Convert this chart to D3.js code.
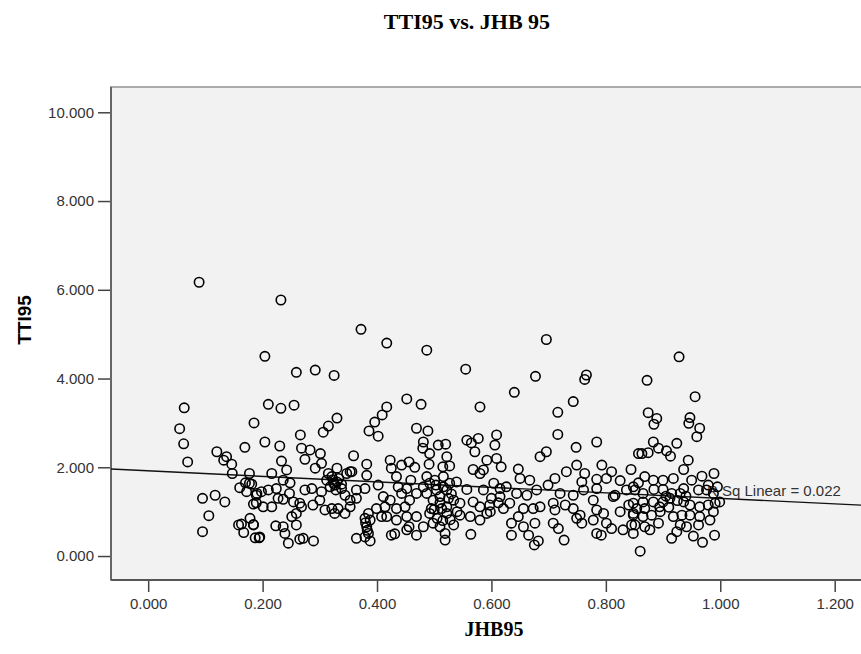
<!DOCTYPE html>
<html>
<head>
<meta charset="utf-8">
<script src="https://cdn.jsdelivr.net/npm/d3@7"></script>
<style>
    body { margin: 0; background: #fff; }
    .tick text { font-family: "Liberation Sans", Arial, sans-serif; font-size: 15px; fill: #333; }
</style>
</head>
<body>
<div id="chart"></div>
<script>
// [JHB95, TTI95] cases, grouped by area of the plot
var upperCases = [
    [0.089,6.17],[0.232,5.77],[0.372,5.11],[0.417,4.80],[0.487,4.64],[0.204,4.50],[0.259,4.14],
    [0.292,4.19],[0.325,4.07],[0.210,3.42],[0.232,3.33],[0.255,3.40],[0.185,3.00],[0.204,2.57],
    [0.230,2.48],[0.266,2.73],[0.306,2.79],[0.315,2.93],[0.330,3.11],[0.386,2.82],[0.402,2.70],
    [0.396,3.02],[0.409,3.18],[0.417,3.36],[0.452,3.54],[0.477,3.42],[0.469,2.88],[0.489,2.82],
    [0.555,4.21],[0.696,4.88],[0.677,4.05],[0.766,4.08],[0.763,3.98],[0.640,3.69],[0.743,3.48],
    [0.580,3.36],[0.716,3.24],[0.716,2.74],[0.784,2.57],[0.748,2.45],[0.928,4.49],[0.872,3.96],
    [0.956,3.59],[0.874,3.23],[0.889,3.10],[0.884,2.97],[0.947,3.12],[0.945,2.99],[0.964,2.88],
    [0.959,2.69]
];
var leftCases = [
    [0.063,3.34],[0.055,2.87],[0.062,2.53],[0.069,2.12],[0.095,1.30],[0.106,0.91],[0.095,0.55],
    [0.117,1.37],[0.134,1.22],[0.120,2.35],[0.132,2.16],[0.137,2.24],[0.146,2.07],[0.147,1.86],
    [0.169,2.45],[0.177,1.86],[0.160,1.54],[0.170,1.65],[0.177,1.64],[0.172,1.45],[0.189,1.37],
    [0.184,1.17],[0.189,1.20],[0.158,0.70],[0.163,0.72],[0.167,0.53],[0.178,0.85],[0.184,0.71],
    [0.187,0.41],[0.194,0.41],[0.181,1.62],[0.190,1.41],[0.198,1.45],[0.210,1.49],[0.224,1.52],
    [0.236,1.71],[0.248,1.65],[0.247,1.41],[0.201,1.11],[0.216,1.11],[0.227,1.30],[0.236,1.28],
    [0.254,1.22],[0.265,1.19],[0.274,1.49],[0.286,1.52],[0.288,1.15],[0.268,1.11],[0.184,0.70],
    [0.223,0.68],[0.236,0.66],[0.239,0.51],[0.251,0.89],[0.259,0.70],[0.245,0.29],[0.265,0.38],
    [0.271,0.40],[0.289,0.34],[0.195,0.43],[0.259,0.96],[0.268,2.43],[0.283,2.39],[0.274,2.18],
    [0.233,2.14],[0.242,1.94],[0.216,1.86]
];
var middleCases = [
    [0.301,2.31],[0.292,1.98],[0.303,2.09],[0.315,1.86],[0.330,1.98],[0.359,2.26],[0.382,2.07],
    [0.382,1.82],[0.353,1.90],[0.423,2.16],[0.425,1.98],[0.443,2.05],[0.456,2.12],[0.466,2.00],
    [0.434,1.79],[0.459,1.71],[0.481,2.57],[0.480,2.43],[0.492,2.31],[0.507,2.50],[0.520,2.52],
    [0.522,2.24],[0.491,2.07],[0.515,2.01],[0.487,1.79],[0.303,1.45],[0.312,1.71],[0.321,1.79],
    [0.324,1.64],[0.318,1.56],[0.330,1.67],[0.328,1.49],[0.338,1.52],[0.347,1.86],[0.356,1.90],
    [0.344,1.37],[0.353,1.26],[0.364,1.49],[0.379,1.52],[0.402,1.60],[0.300,1.26],[0.309,1.04],
    [0.321,1.07],[0.332,1.07],[0.326,0.96],[0.344,0.96],[0.353,1.11],[0.364,1.30],[0.385,0.96],
    [0.379,0.85],[0.388,0.81],[0.382,0.66],[0.385,0.51],[0.364,0.40],[0.379,0.43],[0.388,0.34],
    [0.399,1.07],[0.411,1.34],[0.414,1.11],[0.408,0.89],[0.417,0.89],[0.423,1.26],[0.434,1.07],
    [0.434,0.81],[0.443,1.41],[0.449,1.11],[0.452,0.89],[0.456,0.66],[0.469,0.89],[0.469,0.47],
    [0.425,0.47],[0.431,0.50],[0.452,0.59],[0.481,0.66],[0.492,0.96],[0.498,0.74],[0.510,0.66],
    [0.519,0.36],[0.519,0.51],[0.481,1.56],[0.487,1.41],[0.492,1.64],[0.501,1.71],[0.504,1.49],
    [0.498,1.26],[0.510,1.34],[0.516,1.79],[0.522,1.49],[0.513,1.07],[0.522,0.96],[0.469,1.41],
    [0.457,1.26],[0.437,1.56],[0.452,1.52],[0.495,1.07],[0.323,1.72],[0.333,1.75],[0.327,1.60],
    [0.338,1.62],[0.503,1.60],[0.510,1.20],[0.505,0.85],[0.515,0.80],[0.525,1.30],[0.500,1.05],
    [0.380,0.75],[0.383,0.58]
];
var centreCases = [
    [0.685,2.24],[0.696,2.35],[0.609,2.73],[0.606,2.50],[0.557,2.61],[0.565,2.55],[0.577,2.65],
    [0.571,2.35],[0.527,2.03],[0.592,2.16],[0.609,2.20],[0.617,2.01],[0.568,1.95],[0.580,1.86],
    [0.586,1.94],[0.647,1.96],[0.650,1.75],[0.667,1.71],[0.711,1.75],[0.731,1.90],[0.749,2.05],
    [0.763,1.86],[0.793,2.05],[0.810,1.90],[0.801,1.75],[0.844,1.95],[0.857,2.31],[0.825,1.70],
    [0.784,1.73],[0.758,1.67],[0.699,1.60],[0.679,1.49],[0.626,1.56],[0.604,1.64],[0.539,1.67],
    [0.527,1.64],[0.516,1.56],[0.557,1.50],[0.586,1.49],[0.615,1.52],[0.644,1.41],[0.662,1.37],
    [0.720,1.41],[0.743,1.37],[0.761,1.49],[0.784,1.52],[0.813,1.34],[0.836,1.49],[0.848,1.56],
    [0.534,1.26],[0.545,1.19],[0.522,1.11],[0.568,1.22],[0.580,1.11],[0.597,1.15],[0.615,1.34],
    [0.621,1.07],[0.632,1.19],[0.656,1.07],[0.673,1.07],[0.685,1.11],[0.708,1.19],[0.711,1.04],
    [0.729,1.15],[0.743,1.07],[0.755,0.92],[0.778,1.26],[0.784,1.04],[0.796,0.96],[0.816,1.37],
    [0.825,1.00],[0.840,1.15],[0.848,0.96],[0.534,0.70],[0.545,0.92],[0.563,0.89],[0.580,0.81],
    [0.592,0.96],[0.564,0.49],[0.635,0.74],[0.635,0.47],[0.647,0.89],[0.656,0.66],[0.665,0.47],
    [0.676,0.74],[0.675,0.25],[0.682,0.34],[0.708,0.74],[0.717,0.62],[0.727,0.36],[0.749,0.85],
    [0.758,0.74],[0.778,0.81],[0.784,0.51],[0.792,0.47],[0.801,0.74],[0.810,0.62],[0.830,0.59],
    [0.845,0.70],[0.848,0.51],[0.860,0.11],[0.530,1.40],[0.540,1.00],[0.528,0.82],[0.600,1.30],
    [0.612,1.20],[0.598,1.00]
];
var rightCases = [
    [0.883,2.57],[0.924,2.54],[0.892,2.43],[0.906,2.37],[0.913,2.25],[0.863,2.31],[0.874,2.33],
    [0.944,2.16],[0.936,1.95],[0.989,1.86],[0.968,1.80],[0.950,1.71],[0.918,1.75],[0.900,1.71],
    [0.883,1.71],[0.868,1.79],[0.857,1.65],[0.995,1.56],[0.979,1.60],[0.976,1.49],[0.962,1.49],
    [0.936,1.52],[0.930,1.41],[0.915,1.41],[0.900,1.50],[0.884,1.50],[0.865,1.41],[0.851,1.49],
    [0.988,1.41],[0.999,1.22],[0.991,1.19],[0.979,1.15],[0.964,1.11],[0.947,1.15],[0.936,1.22],
    [0.912,1.30],[0.900,1.22],[0.894,1.11],[0.883,1.22],[0.865,1.22],[0.848,1.19],[0.854,1.07],
    [0.868,1.07],[0.848,0.92],[0.865,0.89],[0.880,0.92],[0.918,0.89],[0.933,0.92],[0.947,0.92],
    [0.964,0.89],[0.988,1.00],[0.982,0.81],[0.851,0.70],[0.868,0.66],[0.892,0.74],[0.877,0.59],
    [0.930,0.70],[0.941,0.66],[0.962,0.70],[0.924,0.55],[0.915,0.40],[0.953,0.45],[0.969,0.31],
    [0.990,0.47],[0.905,1.35],[0.895,1.00],[0.910,1.10],[0.925,1.25],[0.940,1.35]
];

// linear fit as shown in the picture
var fitIntercept = 1.92, fitSlope = -0.62, fitRSq = 0.022;

var xTicks = [0, 0.2, 0.4, 0.6, 0.8, 1.0, 1.2];
var yTicks = [0, 2, 4, 6, 8, 10];

var w = 861, h = 654;
var plot = {left: 111, top: 87, right: 870, bottom: 580};

var cases = upperCases.concat(leftCases, middleCases, centreCases, rightCases);

var x = d3.scaleLinear().domain([-0.065, 1.246]).range([plot.left, 861]);
var y = d3.scaleLinear().domain([-0.54, 10.57]).range([plot.bottom, plot.top]);
var fmt = d3.format(".3f");

var svg = d3.select("#chart").append("svg")
    .attr("width", w)
    .attr("height", h);

svg.append("text")
    .attr("x", 467)
    .attr("y", 29)
    .attr("text-anchor", "middle")
    .style("font-family", "'Liberation Serif', 'Times New Roman', serif")
    .style("font-weight", "bold")
    .style("font-size", "22px")
    .text("TTI95 vs. JHB 95");

// plot background + frame
svg.append("rect")
    .attr("x", plot.left)
    .attr("y", plot.top)
    .attr("width", plot.right - plot.left)
    .attr("height", plot.bottom - plot.top)
    .style("fill", "#f2f2f2")
    .style("stroke", "#ababab")
    .style("stroke-width", 2);

var xAxis = d3.axisBottom(x).tickValues(xTicks).tickFormat(fmt).tickSize(12).tickPadding(6);
var yAxis = d3.axisLeft(y).tickValues(yTicks).tickFormat(fmt).tickSize(13).tickPadding(4);

var gx = svg.append("g")
    .attr("transform", "translate(0," + plot.bottom + ")")
    .call(xAxis);
gx.select(".domain").remove();
gx.selectAll(".tick line").style("stroke", "#444").style("stroke-width", 1.5);

var gy = svg.append("g")
    .attr("transform", "translate(" + plot.left + ",0)")
    .call(yAxis);
gy.select(".domain").remove();
gy.selectAll(".tick line").style("stroke", "#444").style("stroke-width", 1.5);

// axis lines
svg.append("line")
    .attr("x1", plot.left).attr("x2", plot.left)
    .attr("y1", plot.top).attr("y2", plot.bottom)
    .style("stroke", "#666").style("stroke-width", 2);
svg.append("line")
    .attr("x1", plot.left).attr("x2", w)
    .attr("y1", plot.bottom).attr("y2", plot.bottom)
    .style("stroke", "#555").style("stroke-width", 2);

svg.append("text")
    .attr("transform", "translate(31,320) rotate(-90)")
    .attr("text-anchor", "middle")
    .style("font-family", "'Liberation Sans', Arial, sans-serif")
    .style("font-weight", "bold")
    .style("font-size", "19px")
    .text("TTI95");

svg.append("text")
    .attr("x", 494)
    .attr("y", 636)
    .attr("text-anchor", "middle")
    .style("font-family", "'Liberation Serif', 'Times New Roman', serif")
    .style("font-weight", "bold")
    .style("font-size", "20px")
    .text("JHB95");

// fit line across the whole x range
var xd = x.domain();
svg.append("line")
    .attr("x1", x(xd[0])).attr("y1", y(fitIntercept + fitSlope * xd[0]))
    .attr("x2", x(xd[1])).attr("y2", y(fitIntercept + fitSlope * xd[1]))
    .style("stroke", "#111")
    .style("stroke-width", 1.4);

svg.append("text")
    .attr("x", 707)
    .attr("y", 496)
    .style("font-family", "'Liberation Sans', Arial, sans-serif")
    .style("font-size", "15px")
    .style("fill", "#333")
    .text("R Sq Linear = " + fitRSq.toFixed(3));

svg.append("g")
    .selectAll("circle")
    .data(cases)
    .enter().append("circle")
    .attr("cx", function (d) { return x(d[0]); })
    .attr("cy", function (d) { return y(d[1]); })
    .attr("r", 4.7)
    .style("fill", "none")
    .style("stroke", "#000")
    .style("stroke-width", 1.6);
</script>
</body>
</html>
